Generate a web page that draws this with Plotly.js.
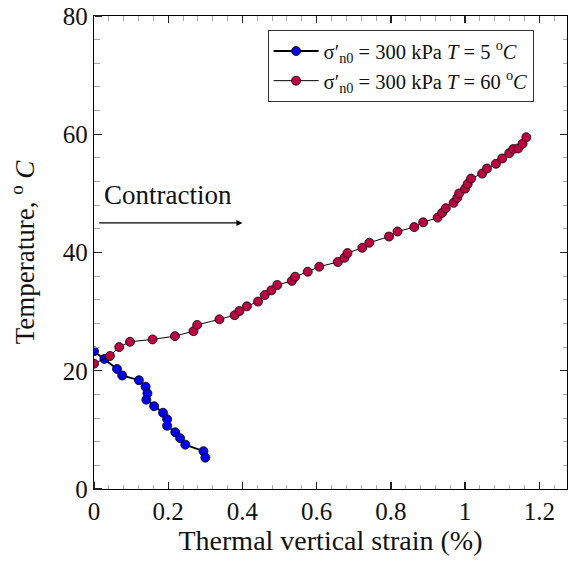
<!DOCTYPE html>
<html>
<head>
<meta charset="utf-8">
<script src="https://cdn.plot.ly/plotly-3.0.1.min.js"></script>
<style>html,body{margin:0;padding:0;background:#fff;}#chart{width:568px;height:572px;}</style>
</head>
<body>
<div id="chart"></div>
<script>
// Series 1: sigma'_n0 = 300 kPa, T = 5 C
const strain5 = [0, 0.028, 0.062, 0.076, 0.121, 0.139, 0.144, 0.141, 0.162, 0.186, 0.197, 0.197, 0.219, 0.232, 0.246, 0.295, 0.300];
const temp5   = [23.3, 22.0, 20.3, 19.2, 18.4, 17.3, 16.2, 15.1, 14.0, 12.9, 11.8, 10.7, 9.6, 8.6, 7.5, 6.4, 5.3];

// Series 2: sigma'_n0 = 300 kPa, T = 60 C
const strain60 = [0, 0.043, 0.068, 0.097, 0.158, 0.218, 0.268, 0.278, 0.338, 0.379, 0.392, 0.412, 0.442, 0.460, 0.478, 0.494,
  0.533, 0.542, 0.576, 0.607, 0.657, 0.675, 0.683, 0.723, 0.742, 0.795, 0.818, 0.863, 0.887, 0.926, 0.938, 0.948,
  0.969, 0.979, 0.984, 1.000, 1.007, 1.016, 1.046, 1.059, 1.083, 1.100, 1.119, 1.130, 1.143, 1.155, 1.165];
const temp60 = [21.2, 22.5, 24.0, 24.9, 25.3, 25.85, 26.7, 27.75, 28.7, 29.4, 30.1, 30.9, 31.7, 32.8, 33.6, 34.5,
  35.2, 35.9, 36.75, 37.6, 38.4, 39.1, 39.9, 40.8, 41.65, 42.7, 43.55, 44.3, 45.1, 45.9, 46.7, 47.5,
  48.4, 49.25, 50.0, 50.8, 51.6, 52.5, 53.35, 54.2, 55.0, 55.9, 56.8, 57.5, 57.6, 58.4, 59.5];

const xTickStep = 0.2;
const yTickStep = 20;
const xRange = [0, 1.2746];
const yRange = [0, 80];

const names = [
  "σ′<sub>n0</sub> = 300 kPa <i>T</i> = 5 <sup>o</sup><i>C</i>",
  "σ′<sub>n0</sub> = 300 kPa <i>T</i> = 60 <sup>o</sup><i>C</i>"
];

const serif = 'Liberation Serif, Times New Roman, serif';

const traces = [
  {x: [null], y: [null], xaxis: 'x2', yaxis: 'y2', showlegend: false, hoverinfo: 'skip', mode: 'markers'},
  {x: strain5, y: temp5, mode: 'lines+markers', name: names[0],
   line: {color: '#000', width: 1.8},
   marker: {color: '#0000f0', size: 9, line: {color: '#000', width: 0.8}}},
  {x: strain60, y: temp60, mode: 'lines+markers', name: names[1],
   line: {color: '#000', width: 1},
   marker: {color: '#bf0040', size: 9, line: {color: '#000', width: 0.8}}}
];

const majorStyle = {ticklen: 7, tickwidth: 1.3, tickcolor: '#222'};
const minorStyle = {ticklen: 4.5, tickwidth: 1, tickcolor: '#aaa', showgrid: false};

function axisBase(step) {
  return Object.assign({
    showgrid: false, zeroline: false, showline: true, linecolor: '#000', linewidth: 1.2,
    mirror: 'allticks', ticks: 'inside',
    tickmode: 'linear', tick0: 0, dtick: step,
    tickfont: {family: serif, size: 25, color: '#111'},
    minor: Object.assign({ticks: 'inside', dtick: step / 5, tick0: 0}, minorStyle)
  }, majorStyle);
}

// helper axes: placed on the bottom/left edge but facing into the plot
function innerAxis(step, range, over, side) {
  return Object.assign({
    overlaying: over, anchor: 'free', position: 0, side: side, range: range,
    showgrid: false, zeroline: false, showline: false, showticklabels: false,
    ticks: 'outside', tickmode: 'linear', tick0: 0, dtick: step,
    minor: Object.assign({ticks: 'outside', dtick: step / 5, tick0: 0}, minorStyle)
  }, majorStyle);
}

const layout = {
  width: 568, height: 572,
  margin: {l: 93.5, r: 1, t: 16, b: 83},
  paper_bgcolor: '#fff', plot_bgcolor: '#fff',
  showlegend: true,
  xaxis: Object.assign(axisBase(xTickStep), {
    range: xRange,
    title: {text: 'Thermal vertical strain (%)', font: {family: serif, size: 28, color: '#111'}, standoff: 6}
  }),
  yaxis: Object.assign(axisBase(yTickStep), {
    range: yRange,
    title: {text: 'Temperature, <sup>o</sup> <i>C</i>', font: {family: serif, size: 27, color: '#111'}, standoff: 20}
  }),
  xaxis2: innerAxis(xTickStep, xRange, 'x', 'top'),
  yaxis2: innerAxis(yTickStep, yRange, 'y', 'right'),
  legend: {
    x: 0.367, y: 0.970, xanchor: 'left', yanchor: 'top',
    bgcolor: '#fff', bordercolor: '#333', borderwidth: 1,
    font: {family: serif, size: 20.5, color: '#111'},
    tracegroupgap: 8, itemwidth: 45
  },
  annotations: [
    {x: 0.2, y: 49.7, xref: 'x', yref: 'y', text: 'Contraction', showarrow: false,
     font: {family: serif, size: 27, color: '#111'}},
    {x: 0.4, y: 45, ax: 0.01, ay: 45, xref: 'x', yref: 'y', axref: 'x', ayref: 'y',
     text: '', showarrow: true, arrowhead: 2, arrowsize: 1, arrowwidth: 1.2, arrowcolor: '#000'}
  ]
};

Plotly.newPlot('chart', traces, layout, {displayModeBar: false, staticPlot: true});
</script>
</body>
</html>
